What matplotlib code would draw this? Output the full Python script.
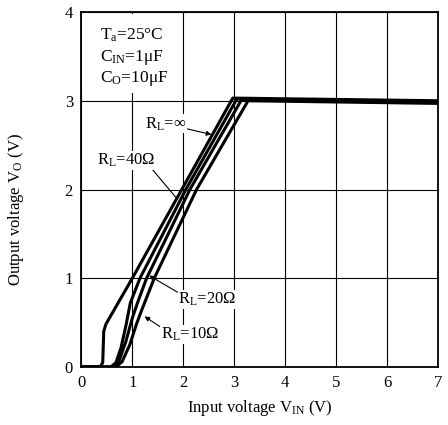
import matplotlib
matplotlib.use("Agg")
import matplotlib.pyplot as plt
from matplotlib.patches import Rectangle

plt.rcParams['font.family'] = ['Liberation Serif', 'DejaVu Serif']
plt.rcParams['mathtext.fontset'] = 'custom'
plt.rcParams['mathtext.rm'] = 'Liberation Serif'
plt.rcParams['mathtext.it'] = 'Liberation Serif:italic'

# Data
vin_inf = [0, 0.37, 0.42, 0.44, 0.48, 1.0, 1.97, 2.97, 7]
vo_inf = [0, 0, 0.05, 0.40, 0.48, 1.0, 2.0, 3.03, 3.0]

vin_40 = [0, 0.58, 0.68, 0.78, 0.88, 0.96, 1.15, 2.05, 3.05, 7]
vo_40 = [0, 0, 0.05, 0.22, 0.48, 0.72, 1.0, 2.0, 3.02, 2.99]

vin_20 = [0, 0.62, 0.74, 0.87, 1.0, 1.1, 1.28, 2.13, 3.14, 7]
vo_20 = [0, 0, 0.07, 0.28, 0.55, 0.72, 1.0, 2.0, 3.01, 2.98]

vin_10 = [0, 0.68, 0.8, 0.95, 1.08, 1.17, 1.43, 2.26, 3.27, 7]
vo_10 = [0, 0, 0.06, 0.25, 0.48, 0.62, 1.0, 2.0, 3.0, 2.97]

x_ticks = [0, 1, 2, 3, 4, 5, 6, 7]
y_ticks = [0, 1, 2, 3, 4]

fig = plt.figure(figsize=(4.48, 4.25), dpi=100)
ax = fig.add_axes([81.3/448, 1-367/425, (438.3-81.3)/448, (367-12)/425])

for xs, ys in [(vin_inf, vo_inf), (vin_40, vo_40), (vin_20, vo_20), (vin_10, vo_10)]:
    ax.plot(xs, ys, color='black', lw=2.2, solid_joinstyle='round', zorder=3)

ax.set_xlim(0, 7)
ax.set_ylim(0, 4)
ax.set_xticks(x_ticks)
ax.set_yticks(y_ticks)
ax.tick_params(length=0, labelsize=12, pad=6)
ax.grid(True, color='black', lw=0.8)
for s in ax.spines.values():
    s.set_linewidth(1.3)

# White box behind the conditions text
ax.add_patch(Rectangle((0.02, 3.09), 1.9, 0.89, facecolor='white', edgecolor='none', zorder=2))
ax.text(0.37, 3.74, r'T$_\mathrm{a}$=25°C', fontsize=12.5, va='center', zorder=4)
ax.text(0.37, 3.49, r'C$_\mathrm{IN}$=1μF', fontsize=12.5, va='center', zorder=4)
ax.text(0.37, 3.25, r'C$_\mathrm{O}$=10μF', fontsize=12.5, va='center', zorder=4)

bb = dict(facecolor='white', edgecolor='none', pad=0.5)
arrow = dict(arrowstyle='-|>', color='black', lw=0.8, mutation_scale=7, shrinkA=0, shrinkB=0)
ax.annotate(r'R$_\mathrm{L}$=∞', xy=(2.55, 2.62), xytext=(2.05, 2.74), fontsize=12,
            ha='right', va='center', arrowprops=arrow, bbox=bb, zorder=4)
ax.annotate(r'R$_\mathrm{L}$=40Ω', xy=(1.87, 1.90), xytext=(0.3, 2.33), fontsize=12,
            ha='left', va='center', bbox=bb, zorder=4,
            arrowprops=dict(arrowstyle='-', color='black', lw=0.8, shrinkA=0, shrinkB=0,
                            relpos=(0.95, 0.0)))
ax.annotate(r'R$_\mathrm{L}$=20Ω', xy=(1.33, 1.03), xytext=(1.90, 0.76), fontsize=12,
            ha='left', va='center', bbox=bb, zorder=4,
            arrowprops=dict(arrowstyle='-|>', color='black', lw=0.8, mutation_scale=7,
                            shrinkA=0, shrinkB=0, relpos=(0.0, 0.9)))
ax.annotate(r'R$_\mathrm{L}$=10Ω', xy=(1.24, 0.57), xytext=(1.56, 0.37), fontsize=12,
            ha='left', va='center', bbox=bb, zorder=4,
            arrowprops=dict(arrowstyle='-|>', color='black', lw=0.8, mutation_scale=7,
                            shrinkA=0, shrinkB=0, relpos=(0.0, 0.9)))

fig.text(260/448, 1-408/425, r'Input voltage V$_\mathrm{IN}$ (V)', fontsize=12,
         ha='center', va='center')
fig.text(16/448, 1-210/425, r'Output voltage V$_\mathrm{O}$ (V)', fontsize=12,
         ha='center', va='center', rotation=90)

fig.savefig('out.png', dpi=100)
